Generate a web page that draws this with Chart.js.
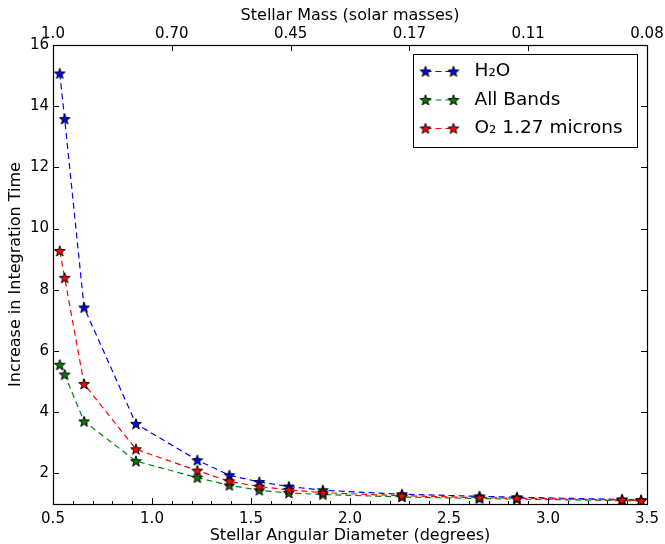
<!DOCTYPE html>
<html lang="en">
<head>
<meta charset="UTF-8">
<title>Integration time vs stellar angular diameter</title>
<script src="https://cdn.jsdelivr.net/npm/chart.js"></script>
<style>
    html, body {
        margin: 0;
        padding: 0;
        background: #fff;
    }

    canvas {
        display: block;
    }
</style>
</head>
<body>

<canvas id="grafico" width="665" height="544"></canvas>

<script>
    // angular diameter of the star (degrees)
    const diameter = [0.534, 0.559, 0.657, 0.919, 1.229, 1.391, 1.542, 1.691, 1.863, 2.262, 2.654, 2.843, 3.374, 3.470];
    // increase in integration time per band
    const h2o      = [15.07, 13.58, 7.42, 3.62, 2.43, 1.94, 1.72, 1.57, 1.45, 1.32, 1.25, 1.22, 1.15, 1.13];
    const allBands = [5.55, 5.23, 3.70, 2.40, 1.86, 1.61, 1.45, 1.36, 1.31, 1.23, 1.18, 1.16, 1.11, 1.10];
    const o2       = [9.27, 8.39, 4.92, 2.79, 2.09, 1.74, 1.57, 1.46, 1.37, 1.27, 1.21, 1.19, 1.13, 1.11];

    const xTicks = [0.5, 1.0, 1.5, 2.0, 2.5, 3.0, 3.5];
    const yTicks = [2, 4, 6, 8, 10, 12, 14, 16];
    // top axis: stellar mass at given diameters
    const massTickPos = [0.5, 1.1, 1.7, 2.3, 2.9, 3.5];
    const massLabels = ["1.0", "0.70", "0.45", "0.17", "0.11", "0.08"];

    const FONT = "'DejaVu Sans', 'Liberation Sans', sans-serif";

    function starImage(color) {
        const c = document.createElement("canvas");
        c.width = 14;
        c.height = 14;
        const g = c.getContext("2d");
        g.beginPath();
        for (let i = 0; i < 10; i++) {
            const r = i % 2 ? 2.3 : 5.6;
            const a = -Math.PI / 2 + i * Math.PI / 5;
            g.lineTo(7 + r * Math.cos(a), 7.4 + r * Math.sin(a));
        }
        g.closePath();
        g.fillStyle = color;
        g.fill();
        g.lineWidth = 1;
        g.strokeStyle = "#000";
        g.stroke();
        return c;
    }

    function serie(label, valores, cor, ordem) {
        return {
            label: label,
            data: diameter.map((x, i) => ({ x: x, y: valores[i] })),
            borderColor: cor,
            backgroundColor: cor,
            borderWidth: 1.2,
            borderDash: [6, 4],
            pointStyle: starImage(cor),
            tension: 0,
            order: ordem
        };
    }

    // inward ticks and the box around the plot
    const frameTicks = {
        id: "frameTicks",
        afterDatasetsDraw(chart) {
            const ctx = chart.ctx;
            const a = chart.chartArea;
            const sx = chart.scales.x, sy = chart.scales.y;
            ctx.save();
            ctx.strokeStyle = "#000";
            ctx.lineWidth = 1;
            ctx.beginPath();
            xTicks.forEach(v => {
                const px = Math.round(sx.getPixelForValue(v)) + 0.5;
                ctx.moveTo(px, a.bottom); ctx.lineTo(px, a.bottom - 6);
            });
            for (let v = 0.6; v < 3.45; v += 0.1) {
                if (Math.abs(v * 2 - Math.round(v * 2)) < 0.01) continue;
                const px = Math.round(sx.getPixelForValue(v)) + 0.5;
                ctx.moveTo(px, a.bottom); ctx.lineTo(px, a.bottom - 3);
            }
            massTickPos.forEach(v => {
                const px = Math.round(sx.getPixelForValue(v)) + 0.5;
                ctx.moveTo(px, a.top); ctx.lineTo(px, a.top + 6);
            });
            yTicks.forEach(v => {
                const py = Math.round(sy.getPixelForValue(v)) + 0.5;
                ctx.moveTo(a.left, py); ctx.lineTo(a.left + 6, py);
                ctx.moveTo(a.right, py); ctx.lineTo(a.right - 6, py);
            });
            ctx.stroke();
            ctx.lineWidth = 1.2;
            ctx.strokeRect(Math.round(a.left) + 0.5, Math.round(a.top) + 0.5,
                Math.round(a.right - a.left), Math.round(a.bottom - a.top));
            ctx.restore();
        }
    };

    // matplotlib-like legend with two markers per entry
    const legendBox = {
        id: "legendBox",
        afterDraw(chart) {
            const ctx = chart.ctx;
            const a = chart.chartArea;
            const w = 224, h = 93;
            const x0 = Math.round(a.right) - 10 - w + 0.5;
            const y0 = Math.round(a.top) + 9 + 0.5;
            ctx.save();
            ctx.fillStyle = "#fff";
            ctx.fillRect(x0, y0, w, h);
            ctx.strokeStyle = "#000";
            ctx.lineWidth = 1;
            ctx.strokeRect(x0, y0, w, h);
            const itens = [0, 1, 2].map(i => chart.data.datasets[i]);
            itens.forEach((ds, i) => {
                const cy = y0 + 17 + i * 28.5;
                const m1 = x0 + 12, m2 = x0 + 40;
                ctx.strokeStyle = ds.borderColor;
                ctx.lineWidth = 1.2;
                ctx.setLineDash([6, 4]);
                ctx.beginPath();
                ctx.moveTo(m1, cy); ctx.lineTo(m2, cy);
                ctx.stroke();
                ctx.setLineDash([]);
                const img = ds.pointStyle;
                ctx.drawImage(img, m1 - img.width / 2, cy - img.height / 2);
                ctx.drawImage(img, m2 - img.width / 2, cy - img.height / 2);
                ctx.fillStyle = "#000";
                ctx.font = "18.5px " + FONT;
                ctx.textBaseline = "middle";
                ctx.fillText(ds.label, x0 + 61, cy);
            });
            ctx.restore();
        }
    };

    const ctxGrafico = document.getElementById("grafico").getContext("2d");
    new Chart(ctxGrafico, {
        type: "line",
        data: {
            datasets: [
                serie("H\u2082O", h2o, "#0000ff", 3),
                serie("All Bands", allBands, "#008000", 2),
                serie("O\u2082 1.27 microns", o2, "#ff0000", 1)
            ]
        },
        options: {
            responsive: false,
            animation: false,
            events: [],
            layout: { padding: { left: 0, right: 18, top: 0, bottom: 0 } },
            plugins: {
                legend: { display: false },
                tooltip: { enabled: false }
            },
            scales: {
                x: {
                    type: "linear",
                    position: "bottom",
                    min: 0.5,
                    max: 3.5,
                    grid: { display: false, drawTicks: false },
                    border: { display: false },
                    afterBuildTicks: s => { s.ticks = xTicks.map(v => ({ value: v })); },
                    afterFit: s => { s.height = 40; s.paddingLeft = 0; s.paddingRight = 0; },
                    ticks: {
                        padding: 6,
                        color: "#000",
                        maxRotation: 0,
                        autoSkip: false,
                        font: { family: FONT, size: 15 },
                        callback: v => v.toFixed(1)
                    },
                    title: {
                        display: true,
                        text: "Stellar Angular Diameter (degrees)",
                        color: "#000",
                        font: { family: FONT, size: 16, lineHeight: 1 },
                        padding: { top: 0, bottom: 0 }
                    }
                },
                x2: {
                    type: "linear",
                    position: "top",
                    min: 0.5,
                    max: 3.5,
                    grid: { display: false, drawTicks: false },
                    border: { display: false },
                    afterBuildTicks: s => { s.ticks = massTickPos.map(v => ({ value: v })); },
                    afterFit: s => { s.height = 45; s.paddingLeft = 0; s.paddingRight = 0; },
                    ticks: {
                        padding: 2,
                        color: "#000",
                        maxRotation: 0,
                        autoSkip: false,
                        font: { family: FONT, size: 15 },
                        callback: (v, i) => massLabels[i]
                    },
                    title: {
                        display: true,
                        text: "Stellar Mass (solar masses)",
                        color: "#000",
                        font: { family: FONT, size: 16 },
                        padding: { top: 6, bottom: 0 }
                    }
                },
                y: {
                    type: "linear",
                    min: 1,
                    max: 16,
                    grid: { display: false, drawTicks: false },
                    border: { display: false },
                    afterBuildTicks: s => { s.ticks = yTicks.map(v => ({ value: v })); },
                    afterFit: s => { s.width = 53; s.paddingTop = 0; s.paddingBottom = 0; },
                    ticks: {
                        padding: 4,
                        color: "#000",
                        autoSkip: false,
                        font: { family: FONT, size: 15 }
                    },
                    title: {
                        display: true,
                        text: "Increase in Integration Time",
                        color: "#000",
                        font: { family: FONT, size: 16 },
                        padding: { top: 6, bottom: 0 }
                    }
                }
            }
        },
        plugins: [frameTicks, legendBox]
    });
</script>

</body>
</html>
